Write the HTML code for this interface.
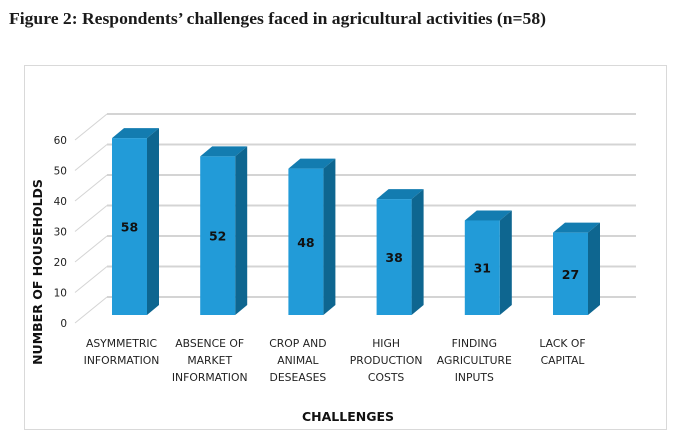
<!DOCTYPE html>
<html><head><meta charset="utf-8"><style>
body{margin:0;background:#fff;width:677px;height:441px;overflow:hidden}
svg{display:block}
</style></head><body>
<svg id="chart" width="677" height="441" xmlns="http://www.w3.org/2000/svg">
<text x="9" y="24" font-family="Liberation Serif, serif" font-weight="bold" font-size="17" fill="#1a1a1a" textLength="537" lengthAdjust="spacingAndGlyphs">Figure 2: Respondents’ challenges faced in agricultural activities (n=58)</text>
<rect x="24.5" y="65.5" width="642" height="364" fill="#fff" stroke="#d9d9d9"/>
<g id="grid"></g>
<g id="bars"></g>
<g id="labels"></g>
<text x="348" y="421" text-anchor="middle" font-family="DejaVu Sans, sans-serif" font-weight="bold" font-size="12.5" fill="#111">CHALLENGES</text>
<text transform="translate(42,272) rotate(-90)" text-anchor="middle" font-family="DejaVu Sans, sans-serif" font-weight="bold" font-size="12.5" fill="#111">NUMBER OF HOUSEHOLDS</text>
</svg>
<script>
const categories = [["ASYMMETRIC","INFORMATION"],["ABSENCE OF","MARKET","INFORMATION"],["CROP AND","ANIMAL","DESEASES"],["HIGH","PRODUCTION","COSTS"],["FINDING","AGRICULTURE","INPUTS"],["LACK OF","CAPITAL"]];
const values = [58,52,48,38,31,27];
const yTicks = [0,10,20,30,40,50,60];

const NS='http://www.w3.org/2000/svg';
const unit=3.05, frontBase=315, labelBase=323, backBase=297;
const yFront=v=>frontBase-unit*v;
const yLabel=v=>labelBase-unit*v;
const yBack=v=>backBase-unit*v;
const xCenter=i=>129.5+i*88.2;
const bw=35, dx=12, dy=10;
function mk(tag,attrs,parent){const e=document.createElementNS(NS,tag);for(const k in attrs)e.setAttribute(k,attrs[k]);parent.appendChild(e);return e;}
const grid=document.getElementById('grid'),bars=document.getElementById('bars'),labels=document.getElementById('labels');
yTicks.forEach(t=>{
  const g=mk('g',{},grid);
  
  
  mk('line',{x1:107,x2:636,y1:yBack(t),y2:yBack(t),stroke:'#d4d4d4','stroke-width':2},g);
  mk('line',{x1:75,x2:107,y1:yLabel(t),y2:yBack(t),stroke:'#d4d4d4','stroke-width':1},g);
  const tx=mk('text',{x:67,y:yLabel(t)+4,'text-anchor':'end','font-family':'DejaVu Sans, sans-serif','font-size':10.5,fill:'#222'},g);
  
  
  tx.textContent=t;
});
values.forEach((v,i)=>{
  const x0=xCenter(i)-bw/2, x1=x0+bw, yt=yFront(v), yb=frontBase;
  const g=mk('g',{},bars);
  
  
  mk('polygon',{points:`${x0},${yt} ${x0+dx},${yt-dy} ${x1+dx},${yt-dy} ${x1},${yt}`,fill:'#137cb0'},g);
  mk('polygon',{points:`${x1},${yt} ${x1+dx},${yt-dy} ${x1+dx},${yb-dy} ${x1},${yb}`,fill:'#0e6690'},g);
  mk('rect',{x:x0,y:yt,width:bw,height:yb-yt,fill:'#229bd8'},g);
  const t=mk('text',{x:xCenter(i),y:(yt+yb)/2+5,'text-anchor':'middle','font-family':'DejaVu Sans, sans-serif','font-weight':'bold','font-size':12.5,fill:'#111'},g);
  
  
  t.textContent=v;
  const c=mk('text',{'text-anchor':'middle','font-family':'DejaVu Sans, sans-serif','font-size':10.8,fill:'#222'},labels);
  
  
  categories[i].forEach((ln,j)=>{const s=mk('tspan',{x:xCenter(i)-8,y:347+j*17},c);s.textContent=ln;});
});
</script>
</body></html>
